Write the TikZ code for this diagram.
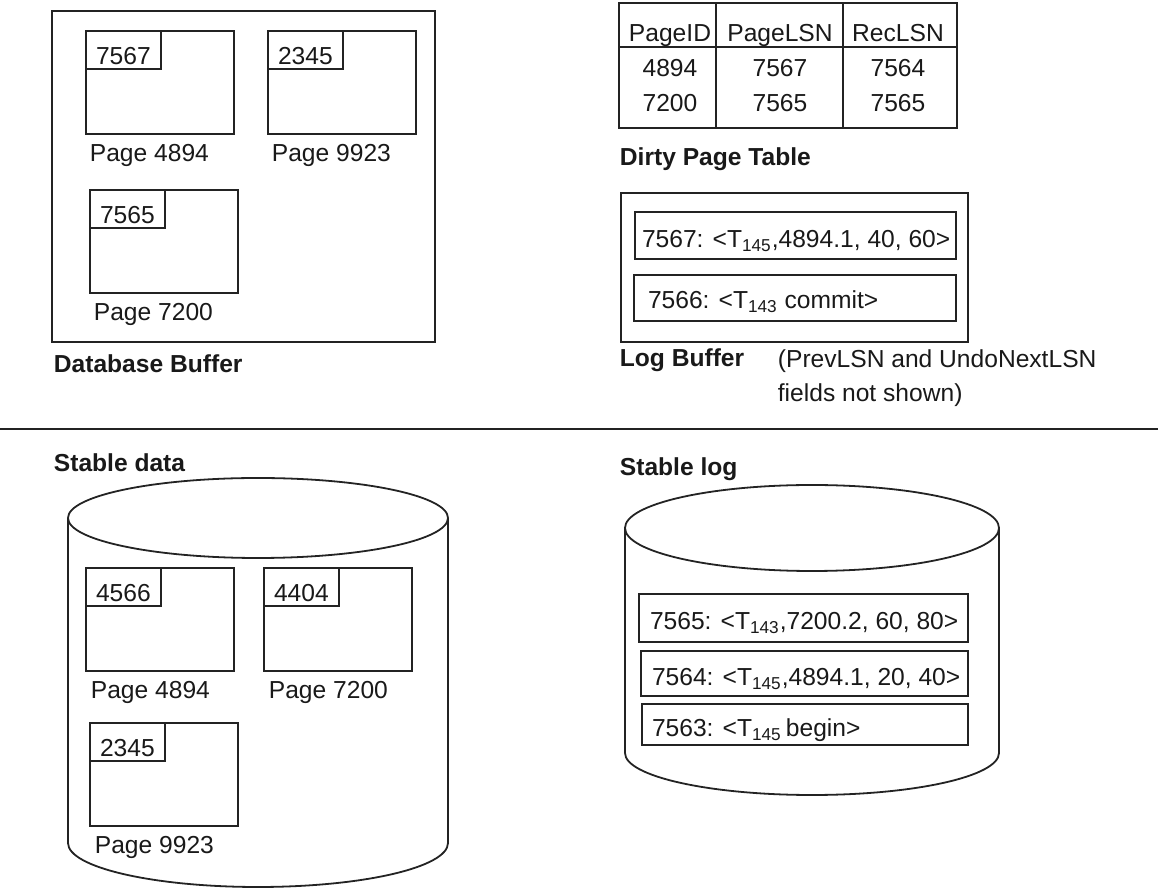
\documentclass[tikz,border=0pt]{standalone}
\usepackage{fontspec}
\setmainfont{Liberation Sans}
\usetikzlibrary{calc,fit,positioning}

\definecolor{inkline}{RGB}{35,35,35}
\definecolor{inktext}{RGB}{25,25,25}

\begin{document}
\begin{tikzpicture}[
    x=0.5pt,
    y=-0.5pt,
    font=\fontsize{12.3}{17}\selectfont,
    text=inktext,
    line width=0.9pt,
    rule/.style={draw=inkline},
    frame/.style={draw=inkline, fit={#1}, inner sep=0pt},
    pagebox/.style={draw=inkline, anchor=north west, minimum width=74pt,
        minimum height=51.5pt, inner sep=0pt},
    lsnbox/.style={draw=inkline, anchor=north west, minimum width=37.5pt,
        inner sep=0pt, text height=17pt, text depth=2pt},
    pagelabel/.style={anchor=base west, inner sep=0pt},
    cell/.style={anchor=base, inner sep=0pt},
    rectext/.style={anchor=base west, inner sep=0pt},
    title/.style={anchor=base west, inner sep=0pt,
        font=\fontsize{12.3}{15}\selectfont\bfseries},
    note/.style={anchor=base west, align=left, inner sep=0pt},
    drum/.style={draw=inkline}
]

\path[use as bounding box] (0,0) rectangle (1158,892);

% Volatile storage: database buffer with three pages.
\node[frame={(52,11) (435,342)}] (dbbuf) {};
\foreach \nm/\px/\py/\lsn/\pid in {
    bufa/85/30/7567/4894,
    bufb/267/30/2345/9923,
    bufc/89/189/7565/7200
} {
    \node[pagebox] (\nm) at (\px,\py) {};
    \node[lsnbox] (\nm-lsn) at (\nm.north west) {\lsn};
    \node[pagelabel] (\nm-lbl) at ($(\nm.south west)+(4,27)$) {Page \pid};
}
\node[title] (dbbuf-title) at (53,373) {Database Buffer};

% Dirty page table.
\node[frame={(619,3) (957,128)}] (dpt) {};
\draw[rule] ($(dpt.north west)+(0,45)$) -- ($(dpt.north east)+(0,45)$);
\draw[rule] ($(dpt.north west)+(98,0)$) -- ($(dpt.south west)+(98,0)$);
\draw[rule] ($(dpt.north west)+(225,0)$) -- ($(dpt.south west)+(225,0)$);
\foreach \col/\xc/\hd/\va/\vb in {
    pid/670/PageID/4894/7200,
    plsn/780/PageLSN/7567/7565,
    rlsn/898/RecLSN/7564/7565
} {
    \node[cell] (dpt-\col) at (\xc,42) {\hd};
    \node[cell] (dpt-\col-a) at (\xc,77) {\va};
    \node[cell] (dpt-\col-b) at (\xc,112) {\vb};
}
\node[title] (dpt-title) at (619,166) {Dirty Page Table};

% Log buffer with two records.
\node[frame={(621,193) (968,342)}] (logbuf) {};
\node[frame={(635,212) (956,259)}] (lb1) {};
\node[rectext] (lb1-txt) at ($(lb1.south west)+(7,-12)$)
    {7567: <T\textsubscript{145},4894.1, 40, 60>};
\node[frame={(634,275) (956,321)}] (lb2) {};
\node[rectext] (lb2-txt) at ($(lb2.south west)+(14,-13)$)
    {7566: <T\textsubscript{143} commit>};
\node[title] (logbuf-title) at (619,367) {Log Buffer};
% base anchor sits on the last line here
\node[note] (logbuf-note) at (777,402) {(PrevLSN and UndoNextLSN\\fields not shown)};

% Volatile / stable boundary.
\draw[rule] (0,429) -- (1158,429);

% Stable data disk.
\node[title] (sdata-title) at (53,472) {Stable data};
\draw[drum] (258,518) ellipse [x radius=190, y radius=40];
\draw[drum] (68,518) -- (68,843)
    arc [start angle=180, end angle=0, x radius=190, y radius=44] -- (448,518);
\foreach \nm/\px/\py/\lsn/\pid in {
    stba/85/567/4566/4894,
    stbb/263/567/4404/7200,
    stbc/89/722/2345/9923
} {
    \node[pagebox] (\nm) at (\px,\py) {};
    \node[lsnbox] (\nm-lsn) at (\nm.north west) {\lsn};
    \node[pagelabel] (\nm-lbl) at ($(\nm.south west)+(5,27)$) {Page \pid};
}

% Stable log disk.
\node[title] (slog-title) at (619,476) {Stable log};
\draw[drum] (812,528) ellipse [x radius=187, y radius=43];
\draw[drum] (625,528) -- (625,753)
    arc [start angle=180, end angle=0, x radius=187, y radius=42] -- (999,528);
\node[frame={(639,594) (968,642)}] (sl1) {};
\node[rectext] (sl1-txt) at ($(sl1.south west)+(11,-13)$)
    {7565: <T\textsubscript{143},7200.2, 60, 80>};
\node[frame={(641,651) (968,696)}] (sl2) {};
\node[rectext] (sl2-txt) at ($(sl2.south west)+(11,-11)$)
    {7564: <T\textsubscript{145},4894.1, 20, 40>};
\node[frame={(642,704) (968,745)}] (sl3) {};
\node[rectext] (sl3-txt) at ($(sl3.south west)+(10,-9)$)
    {7563: <T\textsubscript{145}\,begin>};

\end{tikzpicture}
\end{document}
